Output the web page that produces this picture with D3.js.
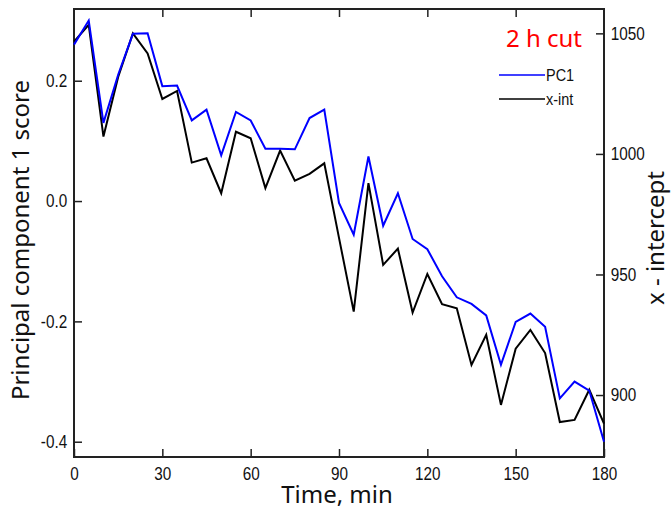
<!DOCTYPE html>
<html>
<head>
<meta charset="utf-8">
<script src="https://cdn.jsdelivr.net/npm/d3@7"></script>
<style>
  body { margin: 0; background: #fff; }
  .tick text { font-family: "Liberation Sans", Arial, sans-serif; font-size: 18px; fill: #111; }
  .tick line { stroke: #222; stroke-width: 1.5; }
  .title { font-family: "Noto Sans", sans-serif; font-size: 24px; fill: #111; }
</style>
</head>
<body>
<div id="chart"></div>
<script>
// time axis, one sample every 5 min
var times = [0, 5, 10, 15, 20, 25, 30, 35, 40, 45, 50, 55, 60, 65, 70, 75, 80, 85, 90,
             95, 100, 105, 110, 115, 120, 125, 130, 135, 140, 145, 150, 155, 160, 165, 170, 175, 180];

// PC1 score (left axis)
var pc1 = [0.260, 0.300, 0.130, 0.210, 0.278, 0.279, 0.191, 0.192, 0.134, 0.152, 0.076, 0.148,
           0.134, 0.087, 0.087, 0.086, 0.138, 0.152, -0.003, -0.056, 0.074, -0.041, 0.013, -0.063,
           -0.080, -0.125, -0.160, -0.171, -0.190, -0.272, -0.201, -0.187, -0.209, -0.328, -0.300,
           -0.315, -0.400];

// x-intercept (right axis)
var xint = [1046.6, 1053.5, 1007.2, 1031.9, 1050.0, 1041.7, 1022.8, 1026.1, 996.4, 998.2, 983.7,
            1009.2, 1006.5, 985.8, 1001.4, 988.9, 991.7, 996.1, 965.2, 934.6, 987.9, 954.0, 960.7,
            934.2, 950.2, 937.7, 936.0, 912.5, 925.0, 895.9, 919.2, 927.0, 917.4, 888.8, 889.7,
            902.2, 888.1];

var xTicks = [0, 30, 60, 90, 120, 150, 180];
var yTicks = [-0.4, -0.2, 0.0, 0.2];
var y2Ticks = [900, 950, 1000, 1050];

var margin = {top: 9, right: 68, bottom: 61, left: 74},
    width = 672 - margin.left - margin.right,
    height = 518 - margin.top - margin.bottom;

var svg = d3.select("#chart")
  .append("svg")
    .attr("width", 672)
    .attr("height", 518)
  .append("g")
    .attr("transform", "translate(" + margin.left + "," + margin.top + ")");

var x = d3.scaleLinear().domain([0, 180]).range([0, width]);
var y = d3.scaleLinear().domain([-0.4254, 0.3192]).range([height, 0]);
var y2 = d3.scaleLinear().domain([874.3, 1060.1]).range([height, 0]);

// tick labels are set in a narrow face
function narrow(g) {
  g.select(".domain").remove();
  g.selectAll(".tick text").attr("transform", "scale(0.85,1)");
}

// axes, ticks pointing inward
svg.append("g")
  .attr("transform", "translate(0," + height + ")")
  .call(d3.axisBottom(x).tickValues(xTicks).tickSize(-8).tickPadding(10))
  .call(narrow);

svg.append("g")
  .call(d3.axisTop(x).tickValues(xTicks.slice(1, -1)).tickSize(-8).tickFormat(""))
  .call(narrow);

svg.append("g")
  .call(d3.axisLeft(y).tickValues(yTicks).tickSize(-8).tickPadding(8)
    .tickFormat(function(d) { return d.toFixed(1); }))
  .call(narrow);

svg.append("g")
  .attr("transform", "translate(" + width + ",0)")
  .call(d3.axisRight(y2).tickValues(y2Ticks).tickSize(-8).tickPadding(8)
    .tickFormat(d3.format("d")))
  .call(narrow);

// frame
svg.append("rect")
  .attr("width", width)
  .attr("height", height)
  .attr("fill", "none")
  .attr("stroke", "#222")
  .attr("stroke-width", 2);

// lines
var linePc1 = d3.line()
  .x(function(d, i) { return x(times[i]); })
  .y(function(d) { return y(d); });

var lineXint = d3.line()
  .x(function(d, i) { return x(times[i]); })
  .y(function(d) { return y2(d); });

svg.append("path")
  .datum(xint)
  .attr("fill", "none")
  .attr("stroke", "#000")
  .attr("stroke-width", 2)
  .attr("d", lineXint);

svg.append("path")
  .datum(pc1)
  .attr("fill", "none")
  .attr("stroke", "#0000ff")
  .attr("stroke-width", 2)
  .attr("d", linePc1);

// axis titles
svg.append("text")
  .attr("class", "title")
  .attr("x", width / 2 - 2)
  .attr("y", height + 46)
  .attr("text-anchor", "middle")
  .text("Time, min");

svg.append("text")
  .attr("class", "title")
  .attr("transform", "translate(-45," + (height / 2 + 7) + ") rotate(-90)")
  .attr("text-anchor", "middle")
  .text("Principal component 1 score");

svg.append("text")
  .attr("class", "title")
  .attr("transform", "translate(" + (width + 60) + "," + (height / 2 + 5) + ") rotate(-90)")
  .attr("text-anchor", "middle")
  .text("x - intercept");

// legend
var legend = svg.append("g").attr("transform", "translate(" + (width - 22) + ",0)");

legend.append("text")
  .attr("x", 0)
  .attr("y", 38)
  .attr("text-anchor", "end")
  .attr("font-family", "'Noto Sans', sans-serif")
  .attr("font-size", 24)
  .attr("fill", "#ff0000")
  .text("2 h cut");

var items = [{label: "PC1", color: "#0000ff"}, {label: "x-int", color: "#000"}];
items.forEach(function(d, i) {
  var yy = 66 + i * 24;
  legend.append("line")
    .attr("x1", -83).attr("x2", -37)
    .attr("y1", yy).attr("y2", yy)
    .attr("stroke", d.color)
    .attr("stroke-width", 1.5);
  legend.append("text")
    .attr("transform", "translate(-36," + yy + ") scale(0.85,1)")
    .attr("dy", "0.35em")
    .attr("font-family", "'Liberation Sans', Arial, sans-serif")
    .attr("font-size", 17)
    .attr("fill", "#111")
    .text(d.label);
});
</script>
</body>
</html>
